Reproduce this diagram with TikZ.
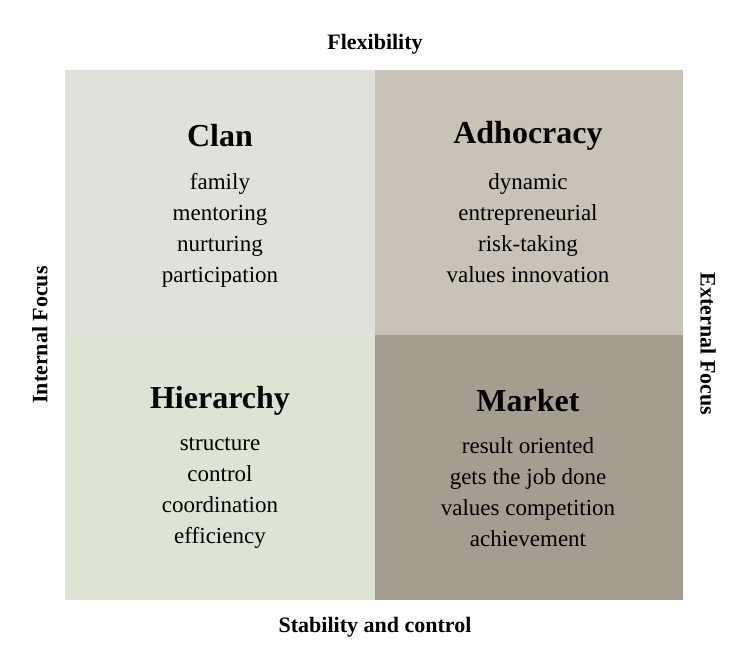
\documentclass[tikz,border=0pt]{standalone}
\usepackage{fontspec}
\setmainfont{Liberation Serif}
\definecolor{clanc}{HTML}{E1E0DB}
\definecolor{adhoc}{HTML}{C9C2B6}
\definecolor{hierc}{HTML}{DEE4D3}
\definecolor{markc}{HTML}{A69D91}
\begin{document}
\begin{tikzpicture}[x=1pt,y=-1pt,
 ttl/.style={font=\fontsize{32}{36}\selectfont\bfseries},
 body/.style={font=\fontsize{23}{31}\selectfont,align=center,anchor=north},
 axis/.style={font=\fontsize{22}{26}\selectfont\bfseries}]
\useasboundingbox (0,0) rectangle (737,650);
\fill[clanc] (65,70) rectangle (375,335);
\fill[adhoc] (375,70) rectangle (683,335);
\fill[hierc] (65,335) rectangle (375,600);
\fill[markc] (375,335) rectangle (683,600);
\node[ttl] (clan) at (220,136) {Clan};
\node[body] (clanb) at (220,170) {family\\mentoring\\nurturing\\participation};
\node[ttl] (adho) at (528,136) {Adhocracy};
\node[body] (adhob) at (528,170) {dynamic\\entrepreneurial\\risk-taking\\values innovation};
\node[ttl] (hier) at (220,401) {Hierarchy};
\node[body] (hierb) at (220,434) {structure\\control\\coordination\\efficiency};
\node[ttl] (mark) at (528,401) {Market};
\node[body] (markb) at (528,434) {result oriented\\gets the job done\\values competition\\achievement};
\node[axis] (top) at (375,44) {Flexibility};
\node[axis] (bot) at (375,627) {Stability and control};
\node[axis,rotate=90] (left) at (40,335) {Internal Focus};
\node[axis,rotate=-90] (right) at (708,344) {External Focus};
\end{tikzpicture}
\end{document}
